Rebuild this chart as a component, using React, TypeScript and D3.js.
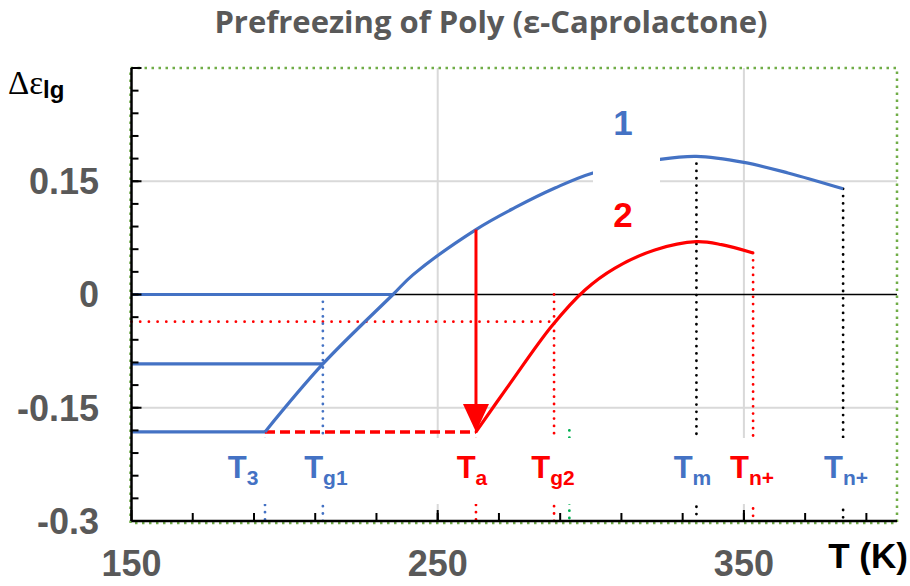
import React from "react";
import * as d3 from "d3";

// ---- data ----
const xDomain = [150, 400];
const yDomain = [-0.3, 0.3];
const xMajorTicks = [150, 250, 350];
const xMinorTicks = d3.range(170, 400, 20);
const yMajorTicks = [-0.3, -0.15, 0, 0.15, 0.3];
const yTickLabels = ["-0.3", "-0.15", "0", "0.15", ""];
const yMinorTicks = d3.range(-0.27, 0.3, 0.03);
const xGrid = [250, 350];
const yGrid = [-0.15, 0.15];

// curve 1 (blue): rising branch + maximum
const curve1: [number, number][] = [
  [193.6, -0.182], [212.5, -0.092], [235.4, 0], [241.9, 0.026], [262.5, 0.086],
  [275.2, 0.115], [288.3, 0.141], [300.7, 0.161], [322.6, 0.179], [334.5, 0.183],
  [350, 0.175], [364.4, 0.161], [382.4, 0.14],
];
// blue horizontal plateaus: [value, end T]
const plateaus: [number, number][] = [[0, 235.4], [-0.092, 212.5], [-0.182, 193.6]];
// curve 2 (red)
const curve2: [number, number][] = [
  [262.5, -0.182], [273.6, -0.118], [287.2, -0.042], [298.1, 0.006], [307.9, 0.035],
  [320.9, 0.059], [334.5, 0.07], [342.7, 0.066], [353, 0.055],
];
const arrowT = 262.5;
const arrowFrom = 0.086;
const arrowTo = -0.182;
const dashedLevel = -0.182;
const dashedFrom = 193.6;
const redDottedLevel = -0.036;
const redDottedTo = 288;

// vertical markers
const markerT = [193.6, 212.5, 262.5, 288, 293, 334.5, 353, 382.4];
const markerTop = [-0.182, 0, -0.182, 0, -0.18, 0.183, 0.055, 0.14];
const markerLine = ["blue", "blue", "red", "red", "green", "black", "red", "black"];
const markerSub = ["3", "g1", "a", "g2", "", "m", "n+", "n+"];
const markerLabelColor = ["blue", "blue", "red", "red", "", "blue", "red", "blue"];
const markerLabelDx = [-22, 3, -4, -1, 0, -4, -1, 3];

const colors: Record<string, string> = {
  blue: "#4472C4",
  red: "#FF0000",
  green: "#00B050",
  black: "#000000",
};

export default function App() {
  const W = 910, H = 586;
  const x = d3.scaleLinear().domain(xDomain).range([131.5, 897]);
  const y = d3.scaleLinear().domain(yDomain).range([521, 68]);
  const line = d3
    .line<[number, number]>()
    .x((d) => x(d[0]))
    .y((d) => y(d[1]))
    .curve(d3.curveCatmullRom.alpha(0.5));

  const x0 = x(xDomain[0]);
  const x1 = x(xDomain[1]);
  const yTop = y(yDomain[1]);
  const yBot = y(yDomain[0]);
  const arrowX = x(arrowT);
  const tipY = y(arrowTo);
  const headLen = 28;
  const headW = 13;

  const bold = "'Liberation Sans', Arial, sans-serif";

  return (
    <svg width={W} height={H} style={{ position: "absolute", left: 0, top: 0, background: "#fff" }}>
      <rect x={0} y={0} width={W} height={H} fill="#fff" />
      {/* title */}
      <text x={491} y={33} textAnchor="middle" fontFamily="'Open Sans', sans-serif" fontWeight={700}
        fontSize={31} fill="#595959">Prefreezing of Poly (ε-Caprolactone)</text>

      {/* grid */}
      {xGrid.map((t) => (
        <line key={"gx" + t} x1={x(t)} x2={x(t)} y1={yTop} y2={yBot} stroke="#D9D9D9" strokeWidth={2} />
      ))}
      {yGrid.map((v) => (
        <line key={"gy" + v} x1={x0} x2={x1} y1={y(v)} y2={y(v)} stroke="#D9D9D9" strokeWidth={2} />
      ))}

      {/* green dotted frame */}
      <rect x={x0 - 1} y={yTop} width={x1 - x0 + 1} height={yBot - yTop + 2} fill="none"
        stroke="#70AD47" strokeWidth={2.5} strokeDasharray="2.5 4.5" />

      {/* zero line */}
      <line x1={x0} x2={x1} y1={y(0)} y2={y(0)} stroke="#000" strokeWidth={1.6} />

      {/* red dotted horizontal */}
      <line x1={x0} x2={x(redDottedTo)} y1={y(redDottedLevel)} y2={y(redDottedLevel)}
        stroke={colors.red} strokeWidth={2.8} strokeDasharray="0 8.7" strokeLinecap="round" />

      {/* vertical markers */}
      {markerT.map((t, i) => (
        <line key={"m" + i} x1={x(t)} x2={x(t)} y1={y(markerTop[i])} y2={yBot}
          stroke={colors[markerLine[i]]} strokeWidth={2.8} strokeDasharray="0 7.3" strokeLinecap="round" />
      ))}

      {/* red dashed */}
      <line x1={x(dashedFrom)} x2={arrowX} y1={y(dashedLevel)} y2={y(dashedLevel)}
        stroke={colors.red} strokeWidth={3.5} strokeDasharray="10 5" />

      {/* blue plateaus */}
      {plateaus.map((p, i) => (
        <line key={"p" + i} x1={x0} x2={x(p[1])} y1={y(p[0])} y2={y(p[0])}
          stroke={colors.blue} strokeWidth={3.2} />
      ))}
      {/* curves */}
      <path d={line(curve1) || ""} fill="none" stroke={colors.blue} strokeWidth={3.2} />
      <path d={line(curve2) || ""} fill="none" stroke={colors.red} strokeWidth={3.2} />

      {/* arrow */}
      <line x1={arrowX} x2={arrowX} y1={y(arrowFrom)} y2={tipY - headLen + 2} stroke={colors.red} strokeWidth={3} />
      <path d={`M${arrowX - headW},${tipY - headLen} L${arrowX + headW},${tipY - headLen} L${arrowX},${tipY} Z`}
        fill={colors.red} />

      {/* white boxes behind labels */}
      <rect x={593} y={100} width={67} height={92} fill="#fff" />
      <rect x={146} y={438} width={747} height={66} fill="#fff" />

      {/* curve labels */}
      <text x={623} y={135} textAnchor="middle" fontFamily={bold} fontWeight={700} fontSize={35} fill={colors.blue}>1</text>
      <text x={623} y={227} textAnchor="middle" fontFamily={bold} fontWeight={700} fontSize={35} fill={colors.red}>2</text>

      {/* marker labels */}
      {markerT.map((t, i) =>
        markerSub[i] === "" ? null : (
          <text key={"ml" + i} x={x(t) + markerLabelDx[i]} y={478} textAnchor="middle" fontFamily={bold}
            fontWeight={700} fill={colors[markerLabelColor[i]]}>
            <tspan fontSize={31}>T</tspan>
            <tspan fontSize={21} dy={7}>{markerSub[i]}</tspan>
          </text>
        )
      )}

      {/* axes */}
      <line x1={x0} x2={x0} y1={yTop} y2={yBot} stroke="#000" strokeWidth={2.5} />
      <line x1={x0} x2={x1} y1={yBot} y2={yBot} stroke="#000" strokeWidth={2.5} />
      {yMinorTicks.map((v, i) => (
        <line key={"ymt" + i} x1={x0} x2={x0 + 7} y1={y(v)} y2={y(v)} stroke="#000" strokeWidth={2} />
      ))}
      {yMajorTicks.map((v, i) => (
        <line key={"yMt" + i} x1={x0} x2={x0 + 10} y1={y(v)} y2={y(v)} stroke="#000" strokeWidth={2} />
      ))}
      {xMinorTicks.map((t) => (
        <line key={"xmt" + t} x1={x(t)} x2={x(t)} y1={yBot} y2={yBot - 8} stroke="#000" strokeWidth={2} />
      ))}
      {xMajorTicks.map((t) => (
        <line key={"xMt" + t} x1={x(t)} x2={x(t)} y1={yBot} y2={yBot - 11} stroke="#000" strokeWidth={2} />
      ))}

      {/* tick labels */}
      {yMajorTicks.map((v, i) => (
        <text key={"yl" + i} x={99} y={y(v)} dy="0.36em" textAnchor="end" fontFamily={bold} fontWeight={700}
          fontSize={36} fill="#595959">{yTickLabels[i]}</text>
      ))}
      {xMajorTicks.map((t) => (
        <text key={"xl" + t} x={x(t)} y={576} textAnchor="middle" fontFamily={bold} fontWeight={700}
          fontSize={36} fill="#595959">{t}</text>
      ))}

      {/* axis titles */}
      <text x={868} y={568} textAnchor="middle" fontFamily={bold} fontWeight={700} fontSize={35} fill="#000">T (K)</text>
      <text x={8} y={94} fill="#000">
        <tspan fontFamily="'Liberation Serif', 'Times New Roman', serif" fontSize={33}>Δε</tspan>
        <tspan fontFamily={bold} fontWeight={700} fontSize={24} dy={4}>lg</tspan>
      </text>
    </svg>
  );
}
